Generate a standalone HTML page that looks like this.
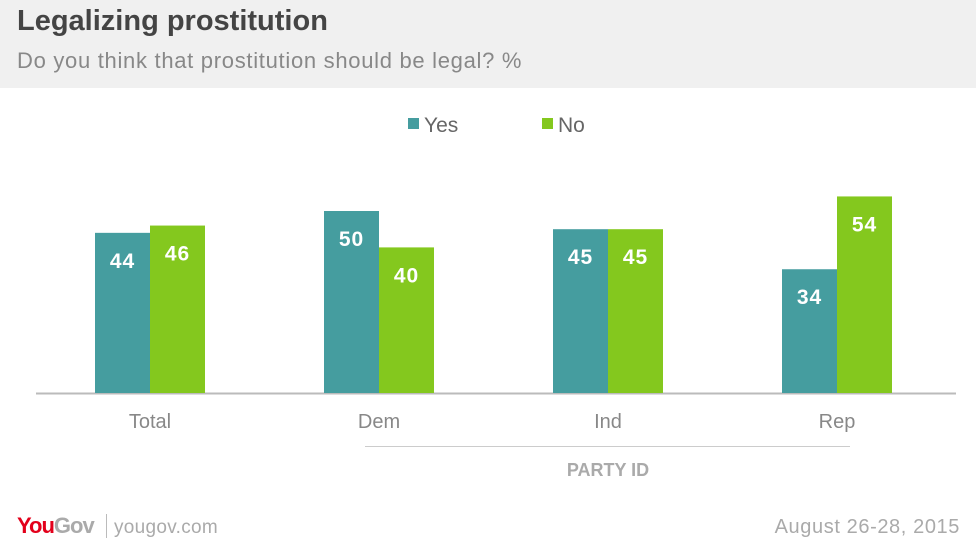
<!DOCTYPE html>
<html><head><meta charset="utf-8"><style>
body{margin:0;width:976px;height:548px;background:#fff;font-family:"Liberation Sans",sans-serif;overflow:hidden;position:relative}
.hdr{position:absolute;left:0;top:0;width:976px;height:88px;background:#f0f0f0}
.t{position:absolute;left:17px;top:5px;font-size:29px;font-weight:bold;color:#444}
.s{position:absolute;left:17px;top:48px;font-size:22px;color:#888;letter-spacing:0.7px}
</style></head><body>
<div class="hdr">
<div class="t">Legalizing prostitution</div>
<div class="s">Do you think that prostitution should be legal? %</div>
</div>
<svg id="c" width="976" height="548" style="position:absolute;left:0;top:0">
<g>
<rect x="408" y="118" width="11" height="11" fill="#459d9f"/>
<text x="424" y="132" font-size="21" fill="#666">Yes</text>
<rect x="542" y="118" width="11" height="11" fill="#84c81e"/>
<text x="558" y="132" font-size="21" fill="#666">No</text>
</g>
<line x1="36" y1="393.5" x2="956" y2="393.5" stroke="#bbb" stroke-width="2"/>
<line x1="365" y1="446.5" x2="850" y2="446.5" stroke="#ccc" stroke-width="1"/>
<text x="608" y="476" font-size="18" font-weight="bold" fill="#aaa" text-anchor="middle">PARTY ID</text>
<text x="17" y="533" font-size="22" font-weight="bold" fill="#e3001b" letter-spacing="-1">You<tspan fill="#aaa">Gov</tspan></text>
<line x1="106.5" y1="514" x2="106.5" y2="538" stroke="#bbb"/>
<text x="114" y="533" font-size="19" fill="#aaa" letter-spacing="0.3">yougov.com</text>
<text x="960" y="533" font-size="20" fill="#aaa" text-anchor="end" letter-spacing="0.6">August 26-28, 2015</text>
<g id="bars"></g>
</svg>
<script>
const categories=["Total","Dem","Ind","Rep"];
const yesValues=[44,50,45,34];
const noValues=[46,40,45,54];
const base=393, scale=3.64, x0=95, groupStep=229, barW=55;
const y=v=>base-v*scale;
const xg=i=>x0+i*groupStep;
const g=document.getElementById('bars');
const NS='http://www.w3.org/2000/svg';
function mk(t,a){const e=document.createElementNS(NS,t);for(const k in a)e.setAttribute(k,a[k]);g.appendChild(e);return e;}
categories.forEach((c,i)=>{
  [[yesValues[i],'#459d9f','yes'],[noValues[i],'#84c81e','no']].forEach((s,j)=>{
    const x=xg(i)+j*barW;
    const r=mk('rect',{x:x,y:y(s[0]),width:barW,height:base-y(s[0]),fill:s[1]});
    
    
    const t=mk('text',{x:x+barW/2,y:y(s[0])+35,'font-size':21,'font-weight':'bold',fill:'#fff','text-anchor':'middle','letter-spacing':1});
    t.textContent=s[0];
    
    
  });
  const l=mk('text',{x:xg(i)+barW,y:428,'font-size':20,fill:'#888','text-anchor':'middle'});
  l.textContent=c;
  
  
});
</script>
</body></html>
